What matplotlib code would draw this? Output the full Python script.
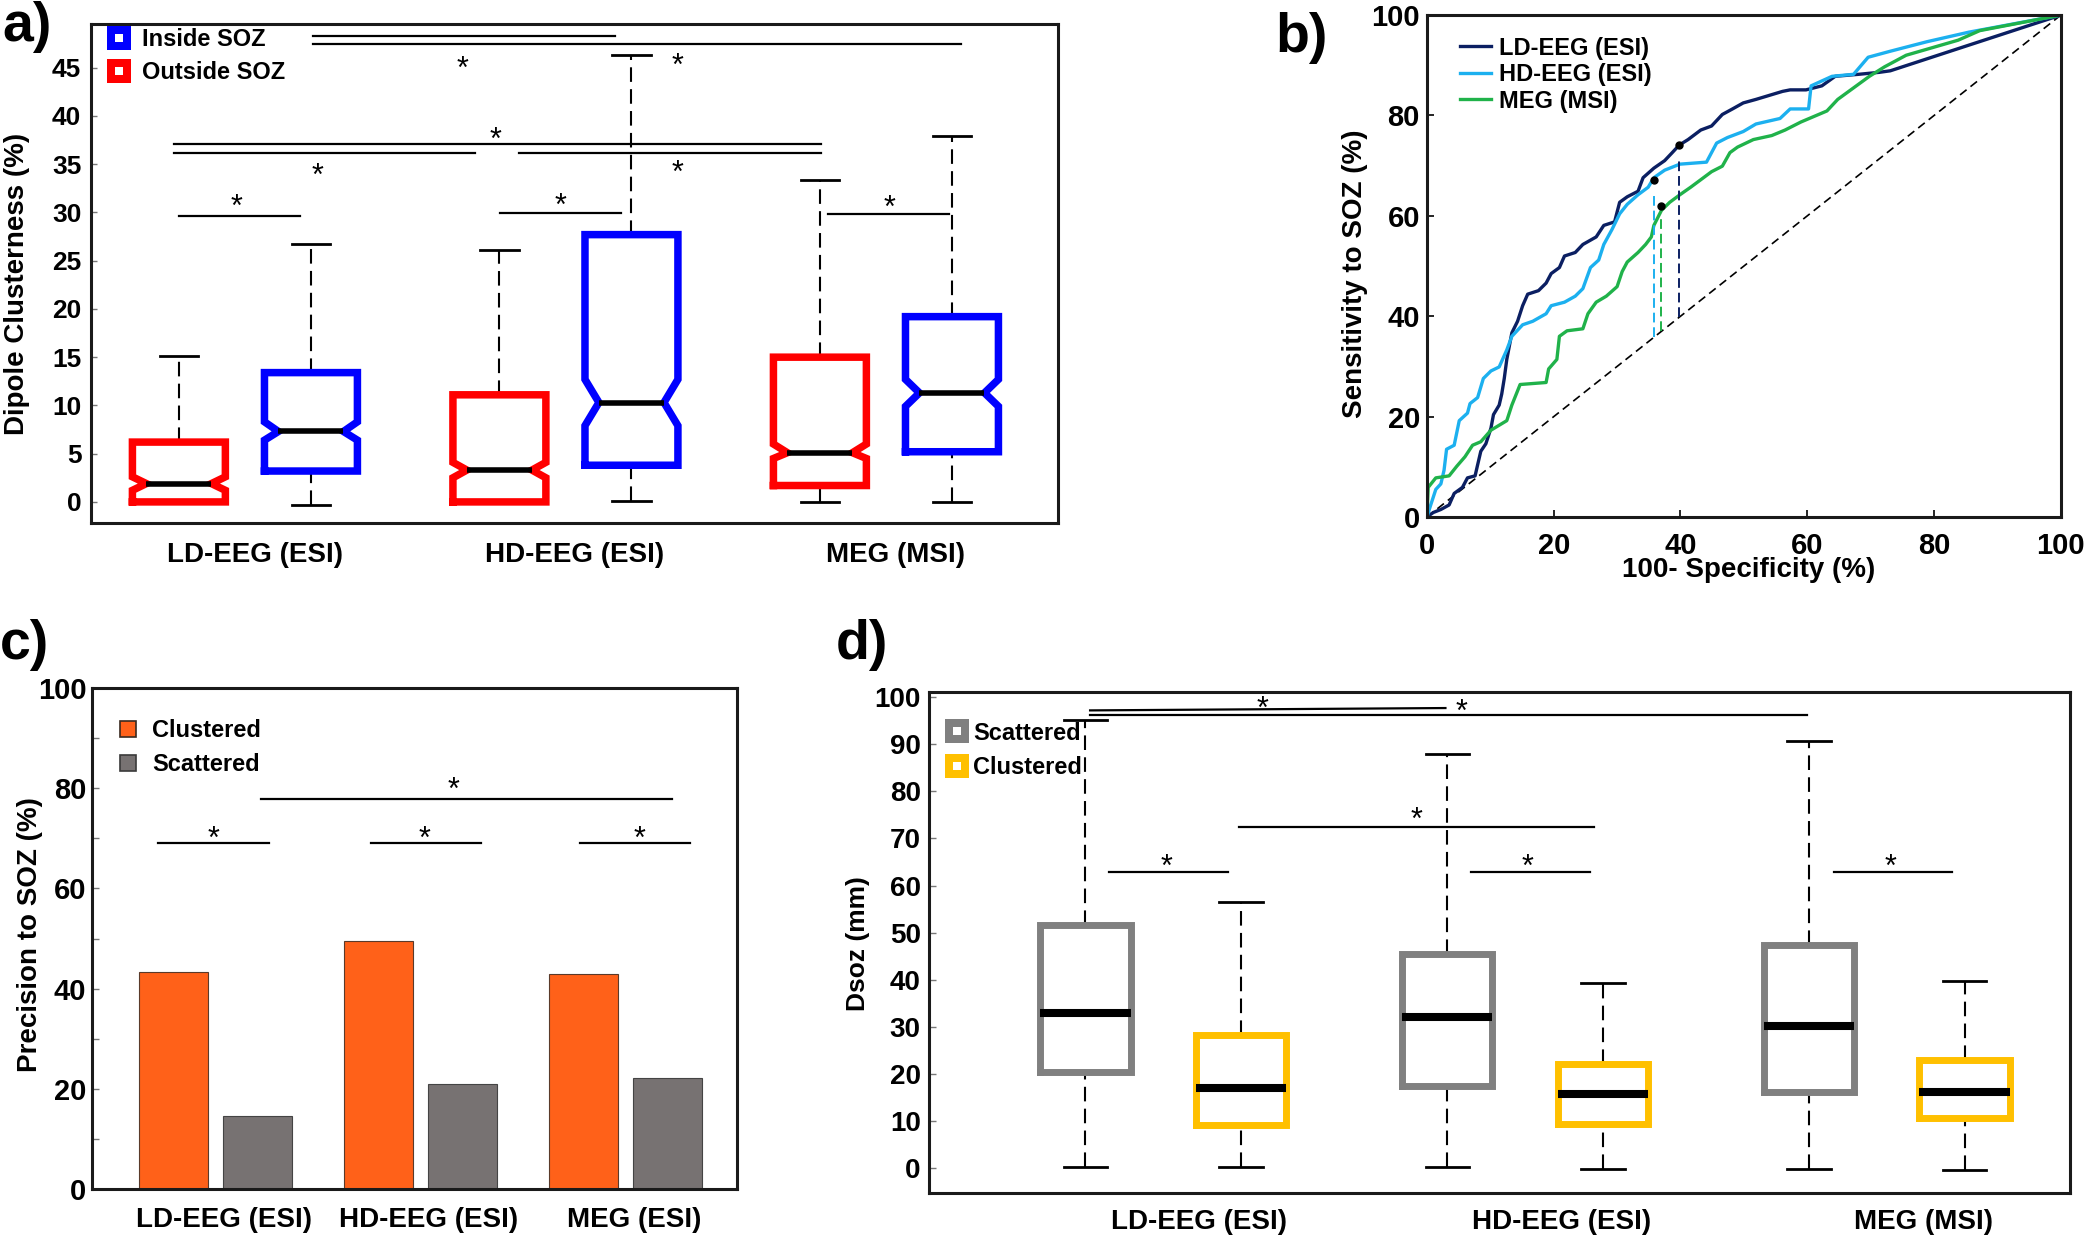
import matplotlib
matplotlib.use('Agg')
import matplotlib.pyplot as plt
from matplotlib.lines import Line2D
import numpy as np

plt.rcParams['font.family'] = ['Liberation Sans', 'DejaVu Sans']
plt.rcParams['font.weight'] = 'bold'
plt.rcParams['axes.labelweight'] = 'bold'

# ---------------- data ----------------
groups_a = ['LD-EEG (ESI)', 'HD-EEG (ESI)', 'MEG (MSI)']
# outside SOZ (red)
out_q1 = [0.0, 0.0, 1.7]
out_med = [1.9, 3.3, 5.1]
out_q3 = [6.2, 11.1, 15.0]
out_lo = [0.0, 0.0, 0.0]
out_hi = [15.1, 26.1, 33.4]
out_cilo = [1.2, 2.5, 4.5]
out_cihi = [2.6, 4.1, 6.0]
# inside SOZ (blue)
in_q1 = [3.2, 3.8, 5.2]
in_med = [7.3, 10.3, 11.3]
in_q3 = [13.4, 27.7, 19.2]
in_lo = [-0.3, 0.1, 0.0]
in_hi = [26.7, 46.3, 37.9]
in_cilo = [6.4, 7.9, 9.9]
in_cihi = [8.3, 12.7, 12.7]

a_sig_x0 = [1.212, 1.212, 0.778, 0.778, 1.855, 0.794, 1.796, 2.819]
a_sig_x1 = [2.154, 3.234, 2.797, 1.718, 2.797, 1.172, 2.173, 3.197]
a_sig_y = [48.3, 47.5, 37.1, 36.2, 36.2, 29.6, 29.9, 29.8]
a_star_x = [1.68, 2.35, 1.783, 1.228, 2.351, 0.975, 1.986, 3.012]
a_star_y = [45.7, 46.1, 38.4, 34.6, 35.0, 31.4, 31.5, 31.3]

# ROC curves
ld_fpr = [0, 1.0, 2.2, 3.5, 4.3, 5.6, 6.4, 7.6, 8.0, 8.5, 9.3, 10.1, 10.5, 11.4, 11.8, 12.2, 12.6, 13.4, 14.3,
          15.1, 15.9, 17.6, 18.8, 19.6, 20.9, 21.7, 23.4, 24.6, 26.7, 27.9, 29.6, 30.4, 31.6, 33.3, 34.1, 35.8,
          37.5, 38.7, 39.8, 41.2, 43.2, 44.9, 46.6, 48.2, 49.9, 51.9, 54.0, 56.1, 57.3, 59.8, 62.3, 64.4, 68.1,
          71.4, 73.1, 100]
ld_tpr = [0, 0.9, 1.5, 2.4, 4.7, 5.9, 7.8, 8.2, 10.4, 13.1, 14.6, 17.7, 20.4, 22.3, 24.5, 27.6, 31.4, 36.7, 39.0,
          42.1, 44.4, 45.1, 46.6, 48.5, 49.7, 52.0, 52.7, 54.3, 55.8, 58.1, 58.8, 62.7, 63.8, 64.9, 67.6, 69.5,
          71.0, 72.6, 74.1, 75.2, 77.1, 77.9, 80.2, 81.3, 82.5, 83.2, 84.0, 84.8, 85.1, 85.1, 85.9, 87.8, 88.2,
          88.6, 88.9, 100]
hd_fpr = [0, 0.6, 1.4, 2.2, 2.7, 3.1, 4.3, 5.1, 6.4, 6.8, 8.0, 8.9, 10.1, 11.4, 12.6, 13.4, 15.1, 16.7, 18.8,
          19.6, 21.7, 23.4, 24.6, 25.8, 27.1, 27.9, 29.2, 30.4, 31.6, 33.3, 34.9, 35.8, 37.5, 39.9, 44.1, 45.7,
          47.4, 49.9, 51.9, 55.7, 57.3, 60.2, 60.6, 63.9, 67.3, 69.6, 73.1, 78.9, 85.5, 100]
hd_tpr = [0, 2.4, 5.5, 6.6, 9.3, 13.5, 14.3, 19.2, 20.7, 22.6, 23.8, 27.6, 29.1, 29.9, 33.3, 36.0, 38.3, 39.0,
          40.5, 42.1, 42.8, 44.0, 45.5, 49.7, 51.2, 54.3, 57.3, 60.4, 62.3, 64.2, 65.7, 67.6, 69.1, 70.3, 70.7,
          74.5, 75.6, 76.8, 78.3, 79.4, 81.3, 81.3, 85.9, 87.8, 88.2, 91.6, 92.8, 94.7, 96.6, 100]
meg_fpr = [0, 0.2, 1.4, 3.5, 4.7, 6.0, 7.2, 8.5, 10.1, 12.6, 13.4, 14.7, 18.8, 19.2, 20.5, 20.9, 22.1, 24.6,
           25.4, 26.7, 28.3, 30.0, 30.8, 31.6, 33.3, 34.5, 35.4, 35.8, 37.0, 38.3, 39.9, 41.6, 43.2, 44.9, 46.6,
           47.8, 49.0, 51.5, 54.4, 56.5, 59.0, 63.1, 64.8, 67.3, 69.8, 72.2, 75.6, 79.7, 83.8, 87.2, 100]
meg_tpr = [0, 5.9, 7.8, 8.2, 10.1, 12.0, 14.3, 15.0, 17.3, 19.2, 22.3, 26.4, 26.8, 29.5, 31.4, 36.0, 37.1, 37.5,
           40.5, 42.8, 44.0, 45.9, 48.9, 50.8, 52.7, 54.3, 55.8, 58.1, 61.1, 62.7, 64.2, 65.7, 67.2, 68.8, 69.9,
           72.6, 73.7, 75.2, 76.0, 77.1, 78.7, 80.9, 83.2, 85.5, 87.8, 89.7, 92.0, 93.5, 95.0, 96.9, 100]
roc_labels = ['LD-EEG (ESI)', 'HD-EEG (ESI)', 'MEG (MSI)']
op_fpr = [39.8, 35.8, 37.0]
op_tpr = [74.2, 67.2, 61.9]

# precision bars
groups_c = ['LD-EEG (ESI)', 'HD-EEG (ESI)', 'MEG (ESI)']
clustered_prec = [43.4, 49.5, 42.9]
scattered_prec = [14.6, 20.9, 22.2]
c_sig_x0 = [0.72, 1.757, 2.776, 1.222]
c_sig_x1 = [1.26, 2.293, 3.312, 3.224]
c_sig_y = [69.0, 69.0, 69.0, 77.9]
c_star_x = [0.99, 2.02, 3.068, 2.16]
c_star_y = [71.6, 71.6, 71.6, 81.4]

# Dsoz boxes
groups_d = ['LD-EEG (ESI)', 'HD-EEG (ESI)', 'MEG (MSI)']
sc_q1 = [20.5, 17.5, 16.1]
sc_med = [32.9, 32.1, 30.2]
sc_q3 = [51.6, 45.4, 47.4]
sc_lo = [0.2, 0.2, -0.25]
sc_hi = [95.25, 87.9, 90.8]
cl_q1 = [9.2, 9.3, 10.6]
cl_med = [17.1, 15.7, 16.25]
cl_q3 = [28.2, 22.1, 22.9]
cl_lo = [0.2, -0.25, -0.4]
cl_hi = [56.5, 39.3, 39.8]
d_sig_x0 = [0.798, 0.798, 1.21, 0.85, 1.85, 2.855]
d_sig_x1 = [1.78, 2.78, 2.19, 1.18, 2.18, 3.18]
d_sig_y0 = [97.2, 96.3, 72.5, 62.8, 62.8, 62.8]
d_sig_y1 = [97.7, 96.3, 72.5, 62.8, 62.8, 62.8]
d_star_x = [1.274, 1.824, 1.70, 1.01, 2.008, 3.01]
d_star_y = [99.2, 98.6, 75.7, 65.7, 65.7, 65.7]


def draw_box(ax, x, q1, med, q3, lo, hi, w, color, lw, mlw, cilo=None, cihi=None, capw=0.12):
    dash = (0, (7, 3.5))
    ax.plot([x, x], [q3, hi], color='k', lw=1.5, linestyle=dash, zorder=2)
    ax.plot([x, x], [lo, q1], color='k', lw=1.5, linestyle=dash, zorder=2)
    ax.plot([x - capw / 2, x + capw / 2], [hi, hi], color='k', lw=2, zorder=2)
    ax.plot([x - capw / 2, x + capw / 2], [lo, lo], color='k', lw=2, zorder=2)
    l, r = x - w / 2, x + w / 2
    if cilo is not None:
        ind = 0.15 * w
        xs = [l, r, r, r - ind, r, r, l, l, l + ind, l, l]
        ys = [q1, q1, cilo, med, cihi, q3, q3, cihi, med, cilo, q1]
    else:
        ind = 0
        xs = [l, r, r, l, l]
        ys = [q1, q1, q3, q3, q1]
    ax.plot(xs, ys, color=color, lw=lw, solid_joinstyle='miter', zorder=3)
    ax.plot([l + ind, r - ind], [med, med], color='k', lw=mlw, solid_capstyle='butt', zorder=4)


def stars(ax, xs, ys):
    for sx, sy in zip(xs, ys):
        ax.annotate('*', xy=(sx, sy), xytext=(0, -12.5), textcoords='offset points',
                    ha='center', va='baseline', fontsize=22, fontweight='normal')


def frame(ax):
    for s in ax.spines.values():
        s.set_linewidth(2.2)
        s.set_color('#1a1a1a')


fig = plt.figure(figsize=(20.84, 12.36), dpi=100)

# ---------------- a) ----------------
ax = fig.add_axes([0.0437, 0.5769, 0.464, 0.4037])
pos = np.arange(1, 4)
for i in range(3):
    draw_box(ax, pos[i] - 0.206, out_q1[i], out_med[i], out_q3[i], out_lo[i], out_hi[i], 0.29,
             '#ff0000', 5.4, 4, out_cilo[i], out_cihi[i])
    draw_box(ax, pos[i] + 0.206, in_q1[i], in_med[i], in_q3[i], in_lo[i], in_hi[i], 0.29,
             '#0000ff', 5.4, 4, in_cilo[i], in_cihi[i])
for x0, x1, y in zip(a_sig_x0, a_sig_x1, a_sig_y):
    ax.plot([x0, x1], [y, y], color='k', lw=1.6)
stars(ax, a_star_x, a_star_y)
ax.set_xlim(0.52, 3.537)
ax.set_ylim(-2.18, 49.53)
ax.set_yticks(np.arange(0, 46, 5))
ax.set_xticks(pos + 0.03)
ax.set_xticklabels(groups_a)
ax.tick_params(axis='y', direction='in', length=4, width=1, color='#777777', labelsize=19, pad=7)
ax.tick_params(axis='x', length=0, labelsize=20, pad=14)
ax.set_ylabel('Dipole Clusterness (%)', fontsize=20)
ax.yaxis.set_label_coords(-0.063, 0.48)
frame(ax)
h_a = [Line2D([], [], marker='s', ms=11.5, mew=5.76, mfc='white', mec='#0000ff', ls='none'),
       Line2D([], [], marker='s', ms=11.5, mew=5.76, mfc='white', mec='#ff0000', ls='none')]
ax.legend(h_a, ['Inside SOZ', 'Outside SOZ'], loc='upper left', bbox_to_anchor=(0.0165, 0.991),
          frameon=False, borderpad=0, borderaxespad=0, handlelength=1.0, handletextpad=0.47,
          labelspacing=0.4, prop={'size': 17, 'weight': 'bold'})

# ---------------- b) ----------------
ax = fig.add_axes([0.6847, 0.5817, 0.3042, 0.4061])
roc_x = [ld_fpr, hd_fpr, meg_fpr]
roc_y = [ld_tpr, hd_tpr, meg_tpr]
roc_colors = ['#0b1f62', '#1cb0ef', '#20b24a']
ax.plot([0, 100], [0, 100], color='k', lw=1.2, linestyle=(0, (5, 3)))
for xs, ys, c, lab in zip(roc_x, roc_y, roc_colors, roc_labels):
    ax.plot(xs, ys, color=c, lw=2.4, label=lab)
for fx, ty, c in zip(op_fpr, op_tpr, roc_colors):
    ax.plot([fx, fx], [fx, ty - 2.5], color=c, lw=1.4, linestyle=(0, (5, 2.5)))
ax.plot(op_fpr, op_tpr, 'o', color='k', ms=5, zorder=5)
ax.set_xlim(0, 100)
ax.set_ylim(0, 100)
ax.set_xticks(np.arange(0, 101, 20))
ax.set_yticks(np.arange(0, 101, 20))
ax.tick_params(direction='in', length=5, width=1.2, labelsize=21)
ax.tick_params(axis='y', pad=5)
ax.tick_params(axis='x', pad=11)
ax.set_ylabel('Sensitivity to SOZ (%)', fontsize=20)
ax.set_xlabel('100- Specificity (%)', fontsize=20)
ax.yaxis.set_label_coords(-0.093, 0.485)
ax.xaxis.set_label_coords(0.507, -0.080)
frame(ax)
ax.legend(loc='upper left', bbox_to_anchor=(0.052, 0.957), frameon=False, borderpad=0, borderaxespad=0,
          handlelength=1.31, handletextpad=0.34, labelspacing=0.15, prop={'size': 17, 'weight': 'bold'})

# ---------------- c) ----------------
ax = fig.add_axes([0.0441, 0.0380, 0.3095, 0.4053])
ax.bar(pos - 0.205, clustered_prec, width=0.336, color='#ff6119', edgecolor='#5a3a2a', lw=0.8,
       label='Clustered')
ax.bar(pos + 0.205, scattered_prec, width=0.336, color='#777272', edgecolor='#444444', lw=0.8,
       label='Scattered')
for x0, x1, y in zip(c_sig_x0, c_sig_x1, c_sig_y):
    ax.plot([x0, x1], [y, y], color='k', lw=1.6)
stars(ax, c_star_x, c_star_y)
ax.set_xlim(0.398, 3.541)
ax.set_ylim(0, 100)
ax.set_yticks(np.arange(0, 101, 20))
ax.set_yticks(np.arange(10, 100, 20), minor=True)
ax.set_xticks(pos + 0.04)
ax.set_xticklabels(groups_c)
ax.tick_params(axis='y', which='both', direction='in', length=5, width=1, color='#777777',
               labelsize=21, pad=4)
ax.tick_params(axis='x', length=0, labelsize=20, pad=13)
ax.set_ylabel('Precision to SOZ (%)', fontsize=20)
ax.yaxis.set_label_coords(-0.076, 0.507)
frame(ax)
h_c = [Line2D([], [], marker='s', ms=12, mew=1.2, mfc='#ff6119', mec='#3a2a20', ls='none'),
       Line2D([], [], marker='s', ms=12, mew=1.2, mfc='#777272', mec='#3a3a3a', ls='none')]
ax.legend(h_c, ['Clustered', 'Scattered'], loc='upper left', bbox_to_anchor=(0.037, 0.938),
          frameon=False, borderpad=0, borderaxespad=0, handlelength=1.0, handletextpad=0.53,
          labelspacing=0.47, prop={'size': 17, 'weight': 'bold'})

# ---------------- d) ----------------
ax = fig.add_axes([0.4458, 0.0348, 0.5475, 0.4053])
for i in range(3):
    draw_box(ax, pos[i] - 0.215, sc_q1[i], sc_med[i], sc_q3[i], sc_lo[i], sc_hi[i], 0.25,
             '#808080', 5, 5.8)
    draw_box(ax, pos[i] + 0.215, cl_q1[i], cl_med[i], cl_q3[i], cl_lo[i], cl_hi[i], 0.25,
             '#ffc000', 5, 5.8)
for x0, x1, y0, y1 in zip(d_sig_x0, d_sig_x1, d_sig_y0, d_sig_y1):
    ax.plot([x0, x1], [y0, y1], color='k', lw=1.6)
stars(ax, d_star_x, d_star_y)
ax.set_xlim(0.353, 3.506)
ax.set_ylim(-5.3, 101.1)
ax.set_yticks(np.arange(0, 101, 10))
ax.set_xticks(pos + 0.1)
ax.set_xticklabels(groups_d)
ax.tick_params(axis='y', direction='in', length=5, width=1, color='#777777', labelsize=20, pad=6)
ax.tick_params(axis='x', length=0, labelsize=20, pad=11.5)
ax.set_ylabel('Dsoz (mm)', fontsize=19)
ax.yaxis.set_label_coords(-0.052, 0.497)
frame(ax)
h_d = [Line2D([], [], marker='s', ms=12.2, mew=5.76, mfc='white', mec='#808080', ls='none'),
       Line2D([], [], marker='s', ms=12.2, mew=5.76, mfc='white', mec='#ffc000', ls='none')]
ax.legend(h_d, ['Scattered', 'Clustered'], loc='upper left', bbox_to_anchor=(0.0138, 0.941),
          frameon=False, borderpad=0, borderaxespad=0, handlelength=1.0, handletextpad=0.2,
          labelspacing=0.5, prop={'size': 17, 'weight': 'bold'})

# panel letters
for lx, ly, s in [(0.001, 0.999, 'a)'), (0.612, 0.99, 'b)'), (0.0, 0.499, 'c)'), (0.401, 0.499, 'd)')]:
    fig.text(lx, ly, s, fontsize=40, fontweight='bold', ha='left', va='top')

fig.savefig('out.png', dpi=100)
